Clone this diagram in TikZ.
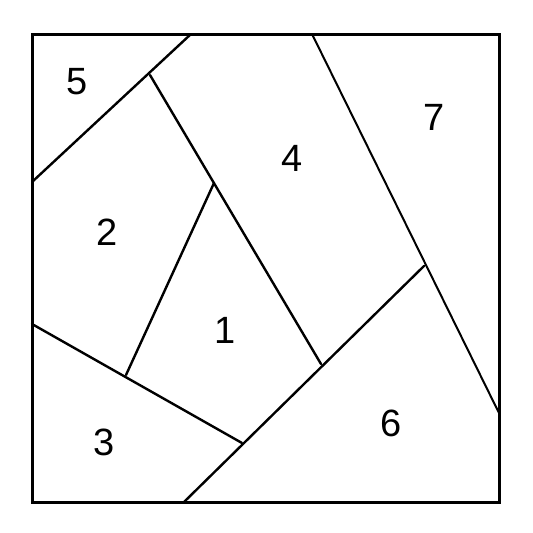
\documentclass[tikz,border=0pt]{standalone}
\usepackage{fontspec}
\setmainfont{Liberation Sans}
\begin{document}
\begin{tikzpicture}[x=1pt,y=-1pt,
  seam/.style={line width=2.4pt,line cap=round},
  frame/.style={line width=3pt},
  num/.style={font=\fontsize{38}{38}\selectfont,inner sep=0pt}]
\useasboundingbox (0,0) rectangle (533,533);
\coordinate (TL) at (32,34);
\coordinate (TR) at (499,34);
\coordinate (BR) at (499,502);
\coordinate (BL) at (32,502);
\coordinate (a1) at (191,34);
\coordinate (a2) at (32,182);
\coordinate (b1) at (150,75);
\coordinate (b2) at (321,364);
\coordinate (c1) at (214,183);
\coordinate (c2) at (126,375);
\coordinate (d1) at (32,324);
\coordinate (d2) at (242,443);
\coordinate (e1) at (184,502);
\coordinate (e2) at (424,266);
\coordinate (f1) at (312,34);
\coordinate (f2) at (499,413);
\draw[seam] (a1) -- (a2);
\draw[seam] (b1) -- (b2);
\draw[seam] (c1) -- (c2);
\draw[seam] (d1) -- (d2);
\draw[seam] (e1) -- (e2);
\draw[seam,line width=2pt] (f1) -- (f2);
\draw[frame] (TL) rectangle (BR);
\node[num] (n5) at (77,82) {5};
\node[num] (n2) at (107,232) {2};
\node[num] (n4) at (292,158) {4};
\node[num] (n7) at (434,117) {7};
\node[num] (n1) at (225,330) {1};
\node[num] (n3) at (104,442) {3};
\node[num] (n6) at (391,423) {6};
\end{tikzpicture}
\end{document}
